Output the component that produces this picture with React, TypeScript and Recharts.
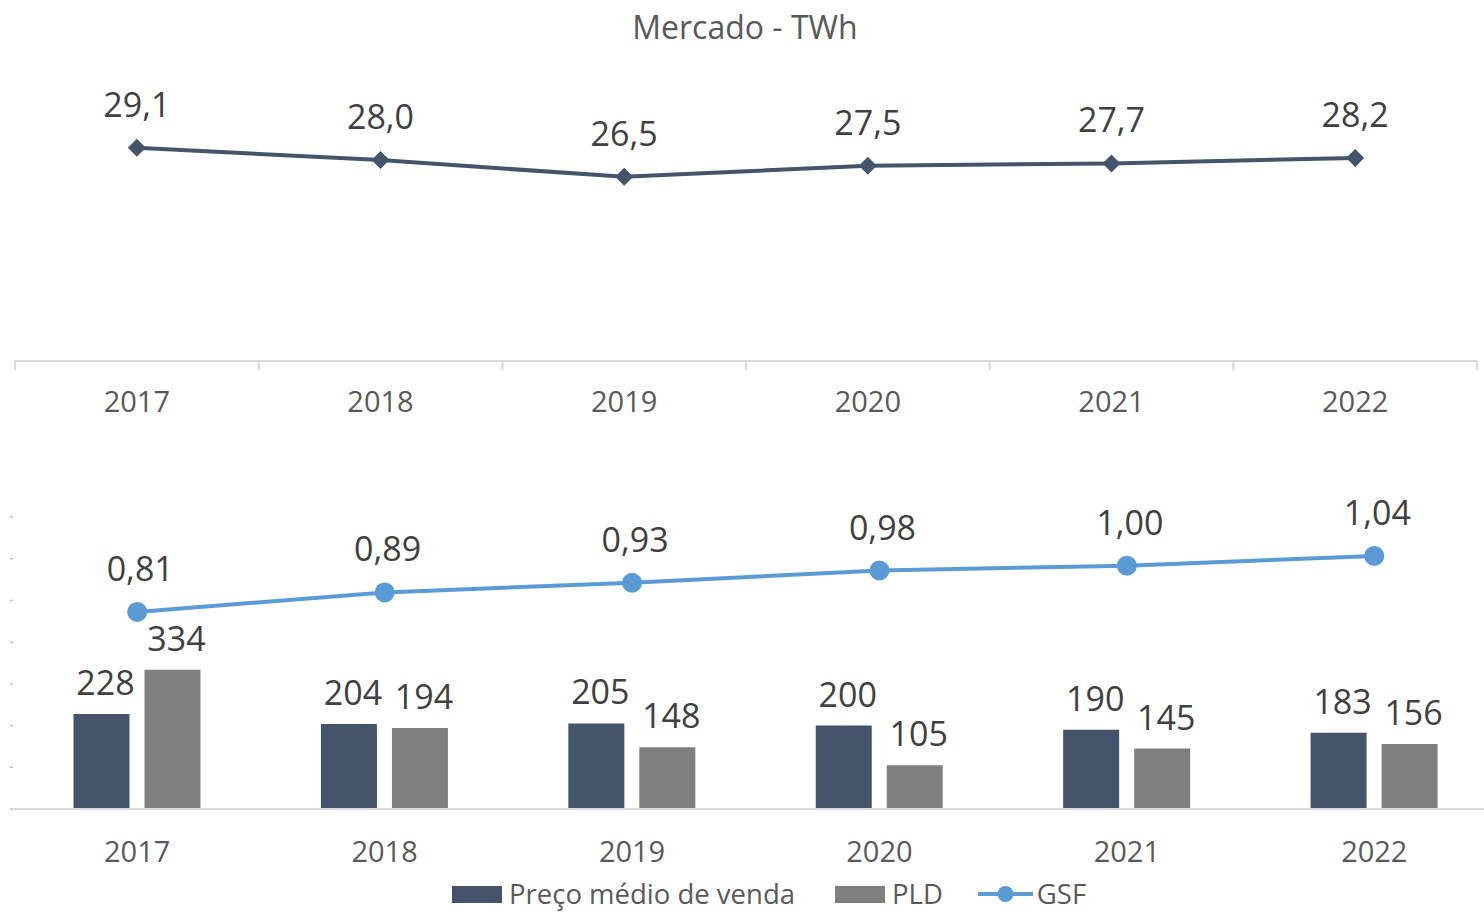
import React from "react";
import { LineChart, Line, ComposedChart, Bar, XAxis, YAxis, LabelList, Legend } from "recharts";

const years = ["2017", "2018", "2019", "2020", "2021", "2022"];
const mercado = [29.1, 28.0, 26.5, 27.5, 27.7, 28.2];
const precoMedio = [228, 204, 205, 200, 190, 183];
const pld = [334, 194, 148, 105, 145, 156];
const gsf = [0.81, 0.89, 0.93, 0.98, 1.0, 1.04];
const seriesNames = ["Preço médio de venda", "PLD", "GSF"];

const topData = years.map((year, i) => ({ year, pos: i + 0.5, mercado: mercado[i] }));
const bottomData = years.map((year, i) => ({ year, preco: precoMedio[i], pld: pld[i], gsf: gsf[i] }));
const topTicks = years.flatMap((_, i) => [i, i + 0.5]).concat(years.length);

const DARK = "#44546A";
const GREY = "#7F7F7F";
const BLUE = "#5B9BD5";
const AXIS = "#D9D9D9";
const TEXT = "#595959";
const LABEL = "#404040";
const FONT = "'Open Sans', sans-serif";

const comma = (d: number) => (v: any) => Number(v).toFixed(d).replace(".", ",");

function TopTick({ x, y, payload }: any) {
  const v = payload.value;
  if (Number.isInteger(v)) {
    return <line x1={x} x2={x} y1={y} y2={y + 9} stroke={AXIS} strokeWidth={2} />;
  }
  return (
    <text x={x} y={y + 51} textAnchor="middle" fill={TEXT} fontSize={29}>
      {years[Math.floor(v)]}
    </text>
  );
}

function Diamond({ cx, cy }: any) {
  if (cx == null || cy == null) return null;
  const s = 9;
  return <path d={`M${cx} ${cy - s}L${cx + s} ${cy}L${cx} ${cy + s}L${cx - s} ${cy}Z`} fill={DARK} />;
}

function LegendContent({ payload }: any) {
  const items = [...(payload || [])].sort((a: any, b: any) => seriesNames.indexOf(a.value) - seriesNames.indexOf(b.value));
  return (
    <div style={{ height: 40, display: "flex", alignItems: "center", paddingLeft: 452, fontSize: 27.5, color: TEXT, fontFamily: FONT }}>
      {items.map((p: any, i: number) => (
        <div key={i} style={{ display: "flex", alignItems: "center", marginRight: i === 0 ? 40 : 35 }}>
          {p.type === "line" ? (
            <svg width={55} height={20} style={{ marginRight: 4 }}>
              <line x1={0} x2={55} y1={10} y2={10} stroke={BLUE} strokeWidth={4} />
              <circle cx={27.5} cy={10} r={8} fill={BLUE} />
            </svg>
          ) : (
            <div style={{ width: 50, height: 17, background: p.color, marginRight: 7 }} />
          )}
          <span style={{ lineHeight: "40px", whiteSpace: "nowrap" }}>{p.value}</span>
        </div>
      ))}
    </div>
  );
}

export default function App() {
  return (
    <div style={{ position: "absolute", left: 0, top: 0, width: 1484, height: 914, overflow: "hidden", background: "#fff", fontFamily: FONT }}>
      <div style={{ position: "absolute", top: 5, left: 0, width: 1490, textAlign: "center", fontSize: 32, color: TEXT, lineHeight: "44px" }}>
        Mercado - TWh
      </div>

      <div style={{ position: "absolute", top: 0, left: 0 }}>
        <LineChart width={1484} height={440} data={topData} margin={{ top: 82, right: 7, left: 15, bottom: 0 }}>
          <XAxis
            dataKey="pos"
            type="number"
            domain={[0, years.length]}
            ticks={topTicks}
            interval={0}
            allowDecimals
            height={79}
            tickLine={false}
            tickSize={0}
            tickMargin={0}
            axisLine={{ stroke: AXIS, strokeWidth: 2 }}
            tick={<TopTick />}
          />
          <YAxis hide domain={[10, 35]} />
          <Line dataKey="mercado" stroke={DARK} strokeWidth={4} dot={<Diamond />} isAnimationActive={false}>
            <LabelList dataKey="mercado" position="top" offset={31} fill={LABEL} fontSize={34} formatter={comma(1)} />
          </Line>
        </LineChart>
      </div>

      <div style={{ position: "absolute", top: 440, left: 0 }}>
        <ComposedChart width={1500} height={474} data={bottomData} margin={{ top: 77, right: 2, left: 0, bottom: 0 }} barGap={15}>
          <XAxis
            dataKey="year"
            axisLine={{ stroke: AXIS, strokeWidth: 2 }}
            tickLine={false}
            tickSize={0}
            tickMargin={32}
            height={65}
            tick={{ fill: TEXT, fontSize: 29 }}
          />
          <YAxis
            yAxisId="left"
            width={13.5}
            domain={[0, 700]}
            ticks={[0, 100, 200, 300, 400, 500, 600, 700]}
            axisLine={false}
            tickSize={7}
            tickLine={{ stroke: "#BFBFBF", strokeWidth: 1.5, strokeDasharray: "0 3.5 3 10" }}
            tick={() => <g />}
          />
          <YAxis yAxisId="right" orientation="right" hide domain={[0, 1.2]} />
          <Legend verticalAlign="bottom" content={<LegendContent />} />
          <Bar yAxisId="left" dataKey="preco" name={seriesNames[0]} fill={DARK} barSize={56} isAnimationActive={false}>
            <LabelList dataKey="preco" position="top" offset={19} dx={4} fill={LABEL} fontSize={34} />
          </Bar>
          <Bar yAxisId="left" dataKey="pld" name={seriesNames[1]} fill={GREY} barSize={56} isAnimationActive={false}>
            <LabelList dataKey="pld" position="top" offset={19} dx={4} fill={LABEL} fontSize={34} />
          </Bar>
          <Line
            yAxisId="right"
            dataKey="gsf"
            name={seriesNames[2]}
            stroke={BLUE}
            strokeWidth={4}
            dot={{ r: 10, fill: BLUE, stroke: "none" }}
            isAnimationActive={false}
          >
            <LabelList dataKey="gsf" position="top" offset={31} dx={3} fill={LABEL} fontSize={34} formatter={comma(2)} />
          </Line>
        </ComposedChart>
      </div>
    </div>
  );
}
